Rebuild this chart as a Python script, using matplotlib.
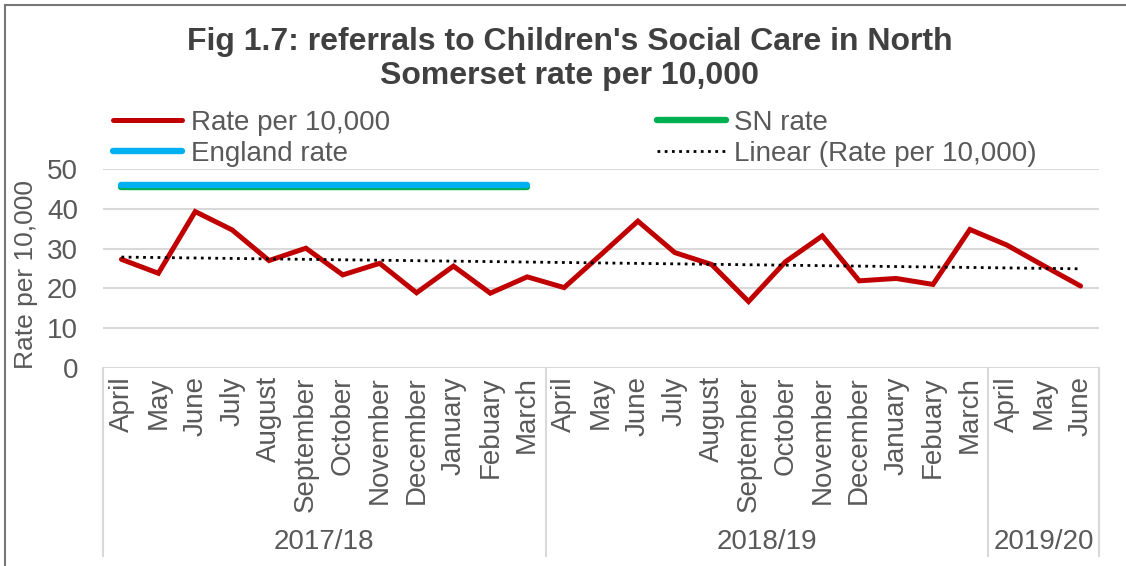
import numpy as np
import matplotlib
matplotlib.use("Agg")
import matplotlib.pyplot as plt
from matplotlib.lines import Line2D

plt.rcParams['font.family'] = ['Liberation Sans', 'DejaVu Sans']

# monthly referral rates, April 2017 to June 2019
months = ['April', 'May', 'June', 'July', 'August', 'September', 'October',
          'November', 'December', 'January', 'Febuary', 'March',
          'April', 'May', 'June', 'July', 'August', 'September', 'October',
          'November', 'December', 'January', 'Febuary', 'March',
          'April', 'May', 'June']
years = ['2017/18', '2018/19', '2019/20']
year_lengths = [12, 12, 3]
rate = [27.3, 23.8, 39.3, 34.7, 27.0, 30.1, 23.4, 26.3, 18.9, 25.6, 18.8, 22.9,
        20.2, 28.5, 36.9, 29.0, 26.0, 16.7, 26.7, 33.2, 21.9, 22.5, 21.0, 34.8,
        30.9, 25.7, 20.6]
england_rate = [46.0] * 12
sn_rate = [45.6] * 12

RED = '#C00000'
BLUE = '#00B0F0'
GREEN = '#00B050'
TEXT = '#595959'

W, H = 1126, 566
fig = plt.figure(figsize=(W / 100, H / 100), dpi=100)
ax = fig.add_axes([103 / W, 1 - 368 / H, (1099 - 103) / W, (368 - 169) / H])

x = np.arange(len(months))
ax.plot(x[:12], sn_rate, color=GREEN, lw=4.6, solid_capstyle='round', label='SN rate', zorder=3)
ax.plot(x[:12], england_rate, color=BLUE, lw=4.6, solid_capstyle='round', label='England rate', zorder=4)
ax.plot(x, rate, color=RED, lw=3.6, solid_capstyle='round', solid_joinstyle='miter',
        label='Rate per 10,000', zorder=5)

# linear trend through the monthly rates
slope, icpt = np.polyfit(x, rate, 1)
ax.plot(x, slope * x + icpt, color='black', lw=2.0, linestyle=(0, (1, 1.6)),
        label='Linear (Rate per 10,000)', zorder=6)

ax.set_xlim(-0.5, len(months) - 0.5)
ax.set_ylim(0, 50)
ax.set_yticks(range(0, 51, 10))
ax.grid(axis='y', color='#D9D9D9', lw=1.5)
ax.set_axisbelow(True)
for s in ax.spines.values():
    s.set_visible(False)

ax.set_xticks(x)
ax.set_xticklabels(months, rotation=90, va='top', ha='center')
ax.tick_params(axis='x', length=0, pad=6, labelsize=20, labelcolor=TEXT)
ax.tick_params(axis='y', length=0, pad=18, labelsize=20, labelcolor=TEXT)
ax.set_ylabel('Rate per 10,000', fontsize=19, color=TEXT)
ax.yaxis.set_label_coords(-0.065, 0.472)

# multi-level category axis: year groups with separators
trans = ax.get_xaxis_transform()
bounds = np.concatenate([[0], np.cumsum(year_lengths)]) - 0.5
for b in bounds:
    ax.plot([b, b], [0, -0.945], transform=trans, color='#D9D9D9', lw=1.5, clip_on=False)
for yr, lo, hi in zip(years, bounds[:-1], bounds[1:]):
    ax.text((lo + hi) / 2, -0.875, yr, transform=trans, ha='center', va='center',
            fontsize=20, color=TEXT)

fig.text(0.506, 1 - 59 / H, "Fig 1.7: referrals to Children's Social Care in North\nSomerset rate per 10,000",
         ha='center', va='center', fontsize=23, fontweight='bold', color='#404040', linespacing=1.18)

h, l = ax.get_legend_handles_labels()
order = [2, 1, 0, 3]
fig.legend([h[i] for i in order], [l[i] for i in order], ncol=2, loc='upper left',
           bbox_to_anchor=(113 / W, 1 - 110 / H), frameon=False, fontsize=20,
           handlelength=2.5, handletextpad=0.3, columnspacing=9.6, labelspacing=0.18,
           borderpad=0, borderaxespad=0, labelcolor=TEXT)

# chart border (top and left edges visible)
fig.add_artist(Line2D([5 / W, 1], [1 - 5 / H, 1 - 5 / H], color='#767676', lw=1.5))
fig.add_artist(Line2D([5 / W, 5 / W], [0, 1 - 5 / H], color='#767676', lw=1.5))

fig.savefig('out.png', dpi=100)
